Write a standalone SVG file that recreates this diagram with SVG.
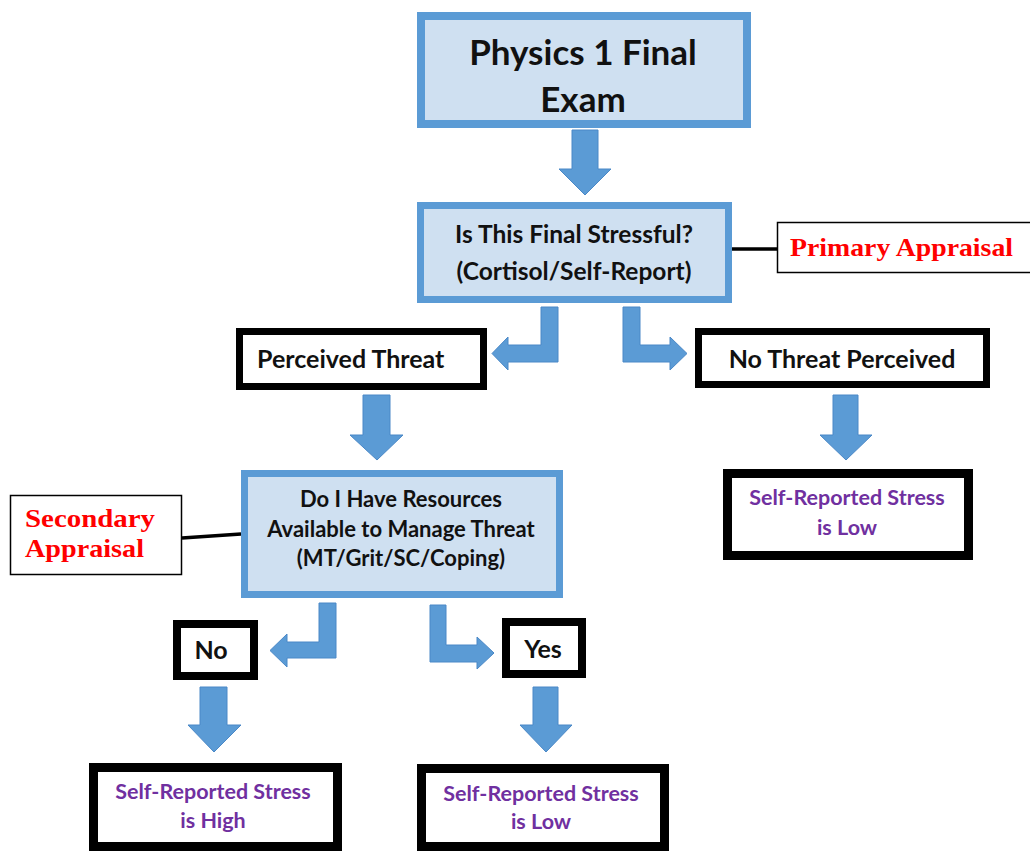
<svg xmlns="http://www.w3.org/2000/svg" width="1030" height="852" viewBox="0 0 1030 852">
<style>
.bluebox{fill:#CFE0F1;stroke:#5B9BD5;stroke-width:7}
.blackbox{fill:#FFFFFF;stroke:#000000;stroke-width:8}
.thinbox{fill:#FFFFFF;stroke:#000000;stroke-width:1.5}
.arrow{fill:#5B9BD5;stroke:#4A88C7;stroke-width:1}
.line{stroke:#000000;stroke-width:3.5;fill:none}
.t{font-family:Lato,"Open Sans","Liberation Sans",sans-serif;font-weight:bold;fill:#111111}
.p{font-family:Lato,"Open Sans","Liberation Sans",sans-serif;font-weight:bold;fill:#7030A0}
.fancy{font-family:"Liberation Serif","DejaVu Serif",serif;font-weight:bold;fill:#FF0000}
</style>
<rect width="1030" height="852" fill="#FFFFFF"/>
<g id="connectors">
<path class="arrow" d="M572,130 H598 V169 H611 L585,195 L559,169 H572 Z"/>
<path class="arrow" d="M541,307 H558 V362 H508 V370 L492,353.5 L508,337 V345 H541 Z"/>
<path class="arrow" d="M623,307 H640 V345 H670 V337 L687,353.5 L670,370 V362 H623 Z"/>
<path class="arrow" d="M363,395 H390 V435 H403 L377,460 L350,435 H363 Z"/>
<path class="arrow" d="M833,395 H858 V435 H872 L846,460 L820,435 H833 Z"/>
<path class="arrow" d="M319,603 H336 V658 H287 V667 L270,650.5 L287,634 V642 H319 Z"/>
<path class="arrow" d="M430,605 H446 V645 H477 V637 L494,653 L477,669 V662 H430 Z"/>
<path class="arrow" d="M200,687 H227 V725 H241 L214,752 L188,725 H200 Z"/>
<path class="arrow" d="M533,687 H558 V725 H572 L546,752 L520,725 H533 Z"/>
<line class="line" x1="732" y1="249" x2="777" y2="249"/>
<line class="line" x1="182" y1="538" x2="241" y2="534"/>
</g>
<g id="exam">
<rect class="bluebox" x="421" y="16" width="326" height="108" style="stroke-width:8"/>
<text class="t" x="583" y="65" text-anchor="middle" font-size="35">Physics 1 Final</text>
<text class="t" x="583" y="112" text-anchor="middle" font-size="35">Exam</text>
</g>
<g id="stressful">
<rect class="bluebox" x="420.5" y="205.5" width="308" height="94"/>
<text class="t" x="574" y="243" text-anchor="middle" font-size="24.5">Is This Final Stressful?</text>
<text class="t" x="574" y="280" text-anchor="middle" font-size="24.5">(Cortisol/Self-Report)</text>
</g>
<g id="primary">
<rect class="thinbox" x="777.5" y="222.5" width="270" height="50"/>
<text class="fancy" x="790" y="256" font-size="25" textLength="223" lengthAdjust="spacingAndGlyphs">Primary Appraisal</text>
</g>
<g id="perceived">
<rect class="blackbox" x="239.5" y="331.5" width="244" height="55" style="stroke-width:7"/>
<text class="t" x="257" y="368" font-size="25">Perceived Threat</text>
</g>
<g id="nothreat">
<rect class="blackbox" x="698.5" y="331.5" width="288" height="53" style="stroke-width:7"/>
<text class="t" x="842" y="368" text-anchor="middle" font-size="25">No Threat Perceived</text>
</g>
<g id="lowright">
<rect class="blackbox" x="727.5" y="473.5" width="241" height="82" style="stroke-width:9"/>
<text class="p" x="847" y="505" text-anchor="middle" font-size="21.5">Self-Reported Stress</text>
<text class="p" x="847" y="535" text-anchor="middle" font-size="21.5">is Low</text>
</g>
<g id="secondary">
<rect class="thinbox" x="10.5" y="495.5" width="171" height="79"/>
<text class="fancy" x="25" y="527" font-size="25" textLength="130" lengthAdjust="spacingAndGlyphs">Secondary</text>
<text class="fancy" x="25" y="557" font-size="25" textLength="119" lengthAdjust="spacingAndGlyphs">Appraisal</text>
</g>
<g id="resources">
<rect class="bluebox" x="244.5" y="473.5" width="315" height="121"/>
<text class="t" x="401" y="507" text-anchor="middle" font-size="22">Do I Have Resources</text>
<text class="t" x="401" y="537" text-anchor="middle" font-size="22">Available to Manage Threat</text>
<text class="t" x="401" y="566" text-anchor="middle" font-size="22">(MT/Grit/SC/Coping)</text>
</g>
<g id="no">
<rect class="blackbox" x="177" y="624" width="77" height="52"/>
<text class="t" x="211" y="659" text-anchor="middle" font-size="25">No</text>
</g>
<g id="yes">
<rect class="blackbox" x="506" y="622" width="76" height="52"/>
<text class="t" x="543" y="658" text-anchor="middle" font-size="25">Yes</text>
</g>
<g id="high">
<rect class="blackbox" x="93.5" y="767.5" width="244" height="79" style="stroke-width:9"/>
<text class="p" x="213" y="799" text-anchor="middle" font-size="21.5">Self-Reported Stress</text>
<text class="p" x="213" y="828" text-anchor="middle" font-size="21.5">is High</text>
</g>
<g id="lowmid">
<rect class="blackbox" x="421.5" y="768.5" width="243" height="78" style="stroke-width:9"/>
<text class="p" x="541" y="801" text-anchor="middle" font-size="21.5">Self-Reported Stress</text>
<text class="p" x="541" y="829" text-anchor="middle" font-size="21.5">is Low</text>
</g>
</svg>
